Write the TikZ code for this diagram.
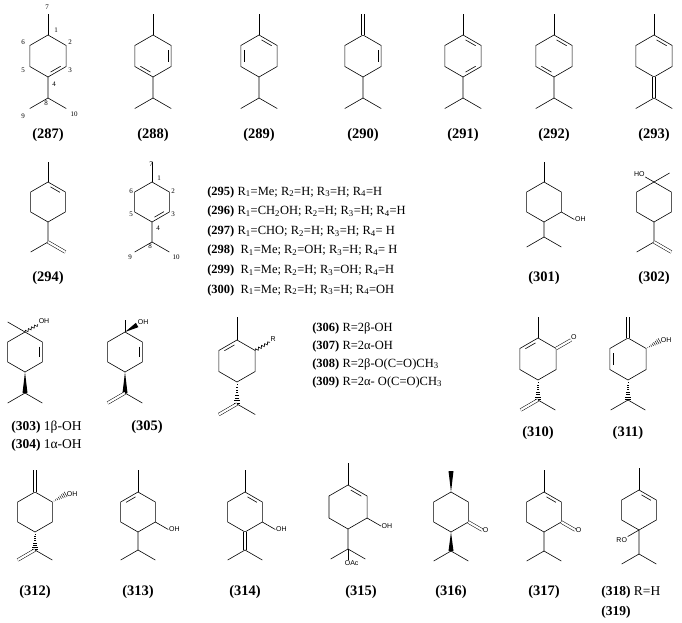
\documentclass[tikz,border=0pt]{standalone}
\usepackage{fontspec}
\setmainfont{Liberation Serif}
\newfontfamily\lsans{Liberation Sans}
\usetikzlibrary{calc,decorations.pathmorphing}
\newcommand\mkring[4]{%
 \coordinate (#1o) at (#2,#3);
 \coordinate (#1a) at ($(#1o)+(-90:#4)$);
 \coordinate (#1b) at ($(#1o)+(-30:#4)$);
 \coordinate (#1c) at ($(#1o)+(30:#4)$);
 \coordinate (#1d) at ($(#1o)+(90:#4)$);
 \coordinate (#1e) at ($(#1o)+(150:#4)$);
 \coordinate (#1f) at ($(#1o)+(210:#4)$);
 \draw (#1a)--(#1b)--(#1c)--(#1d)--(#1e)--(#1f)--cycle;}
\newcommand\din[3]{\draw ($($(#1)!0.17!(#2)$)!3.2pt!(#3)$) -- ($($(#1)!0.83!(#2)$)!3.2pt!(#3)$);}
\newcommand\hw[2]{\foreach \t in {0.12,0.24,...,1.0}{\pgfmathsetmacro\ww{\t*3}\draw[line width=0.45pt] ($($(#1)!\t!(#2)$)!\ww pt!90:(#2)$) -- ($($(#1)!\t!(#2)$)!\ww pt!-90:(#2)$);}}
\newcommand\bw[2]{\fill (#1) -- ($(#2)!2.5pt!90:(#1)$) -- ($(#2)!2.5pt!-90:(#1)$) -- cycle;}
\begin{document}
\begin{tikzpicture}[x=1pt,y=-1pt,line width=0.6pt,
 dbl/.style={double,double distance=2.2pt,line width=0.5pt},
 wavy/.style={decorate,decoration={snake,amplitude=1.3pt,segment length=3.5pt}},
 lab/.style={font=\fontsize{14.5}{16}\selectfont\bfseries},
 txt/.style={font=\fontsize{12.5}{14}\selectfont,anchor=west,inner sep=0pt},
 atl/.style={font=\lsans\fontsize{7}{8}\selectfont,inner sep=0.5pt},
 num/.style={font=\fontsize{7}{8}\selectfont,inner sep=0pt}]
\useasboundingbox (0,0) rectangle (682,623);
% ---------- Row 1 ----------
% 287
\mkring{A}{48}{56}{21}
\din{Ac}{Ad}{Ao}
\draw (Aa) -- ++(0,-21);
\draw (Ad) -- ++(0,21) coordinate (Am) -- ++(150:21); \draw (Am) -- ++(30:21);
\node[num] (n7) at (47,7) {7}; \node[num] (n1) at (56,30) {1};
\node[num] (n2) at (70,42) {2}; \node[num] (n3) at (70,70) {3};
\node[num] (n4) at (54,84) {4}; \node[num] (n5) at (23,70) {5};
\node[num] (n6) at (23,42) {6}; \node[num] (n8) at (46,103) {8};
\node[num] (n9) at (23,116) {9}; \node[num] (n10) at (74,114) {10};
\node[lab] (L287) at (48,135) {(287)};
% 288
\mkring{B}{153}{56}{21}
\din{Bb}{Bc}{Bo} \din{Bd}{Be}{Bo}
\draw (Ba) -- ++(0,-21);
\draw (Bd) -- ++(0,21) coordinate (Bm) -- ++(150:21); \draw (Bm) -- ++(30:21);
\node[lab] (L288) at (153,135) {(288)};
% 289
\mkring{C}{259}{56}{21}
\din{Ca}{Cb}{Co} \din{Ce}{Cf}{Co}
\draw (Ca) -- ++(0,-21);
\draw (Cd) -- ++(0,21) coordinate (Cm) -- ++(150:21); \draw (Cm) -- ++(30:21);
\node[lab] (L289) at (259,135) {(289)};
% 290
\mkring{D}{363}{56}{21}
\din{Db}{Dc}{Do}
\draw[dbl] (Da) -- ++(0,-21);
\draw (Dd) -- ++(0,21) coordinate (Dm) -- ++(150:21); \draw (Dm) -- ++(30:21);
\node[lab] (L290) at (363,135) {(290)};
% 291
\mkring{E}{463}{56}{21}
\din{Ea}{Eb}{Eo} \din{Ec}{Ed}{Eo}
\draw (Ea) -- ++(0,-21);
\draw (Ed) -- ++(0,21) coordinate (Em) -- ++(150:21); \draw (Em) -- ++(30:21);
\node[lab] (L291) at (463,135) {(291)};
% 292
\mkring{F}{554}{56}{21}
\din{Fa}{Fb}{Fo} \din{Fd}{Fe}{Fo}
\draw (Fa) -- ++(0,-21);
\draw (Fd) -- ++(0,21) coordinate (Fm) -- ++(150:21); \draw (Fm) -- ++(30:21);
\node[lab] (L292) at (554,135) {(292)};
% 293
\mkring{G}{654}{56}{21}
\din{Ga}{Gb}{Go}
\draw (Ga) -- ++(0,-21);
\draw[dbl] (Gd) -- ++(0,21) coordinate (Gm); \draw (Gm) -- ++(150:21); \draw (Gm) -- ++(30:21);
\node[lab] (L293) at (654,135) {(293)};
% ---------- Row 2 ----------
% 294
\mkring{H}{48}{202}{20}
\din{Ha}{Hb}{Ho}
\draw (Ha) -- ++(0,-20);
\draw (Hd) -- ++(0,20) coordinate (Hm) -- ++(150:20); \draw[dbl] (Hm) -- ++(30:20);
\node[lab] (L294) at (48,278) {(294)};
% 295 skeleton
\mkring{I}{152}{202}{20}
\din{Ic}{Id}{Io}
\draw (Ia) -- ++(0,-20);
\draw (Id) -- ++(0,20) coordinate (Im) -- ++(150:20); \draw (Im) -- ++(30:20);
\node[num] (m7) at (151,164) {7}; \node[num] (m1) at (159,178) {1};
\node[num] (m2) at (173,191) {2}; \node[num] (m3) at (173,214) {3};
\node[num] (m4) at (158,228) {4}; \node[num] (m5) at (131,214) {5};
\node[num] (m6) at (131,191) {6}; \node[num] (m8) at (150,246) {8};
\node[num] (m9) at (130,257) {9}; \node[num] (m10) at (176,257) {10};
\node[txt] (t295) at (207,192) {\textbf{(295)} R\textsubscript{1}=Me; R\textsubscript{2}=H; R\textsubscript{3}=H; R\textsubscript{4}=H};
\node[txt] (t296) at (207,211.6) {\textbf{(296)} R\textsubscript{1}=CH\textsubscript{2}OH; R\textsubscript{2}=H; R\textsubscript{3}=H; R\textsubscript{4}=H};
\node[txt] (t297) at (207,231.2) {\textbf{(297)} R\textsubscript{1}=CHO; R\textsubscript{2}=H; R\textsubscript{3}=H; R\textsubscript{4}= H};
\node[txt] (t298) at (207,250.8) {\textbf{(298)}\ \ R\textsubscript{1}=Me; R\textsubscript{2}=OH; R\textsubscript{3}=H; R\textsubscript{4}= H};
\node[txt] (t299) at (207,270.4) {\textbf{(299)}\ \ R\textsubscript{1}=Me; R\textsubscript{2}=H; R\textsubscript{3}=OH; R\textsubscript{4}=H};
\node[txt] (t300) at (207,290) {\textbf{(300)}\ \ R\textsubscript{1}=Me; R\textsubscript{2}=H; R\textsubscript{3}=H; R\textsubscript{4}=OH};
% 301
\mkring{J}{544}{202}{20}
\draw (Ja) -- ++(0,-20);
\draw (Jc) -- ++(30:15) node[atl,anchor=west] (J-oh) {OH};
\draw (Jd) -- ++(0,15) coordinate (Jm) -- ++(150:20); \draw (Jm) -- ++(30:20);
\node[lab] (L301) at (544,278) {(301)};
% 302
\mkring{K}{654}{202}{20}
\draw (Ka) -- ++(-30:18);
\draw (Ka) -- ++(210:10) node[atl,anchor=south east] (K-ho) {HO};
\draw (Kd) -- ++(0,20) coordinate (Km) -- ++(150:20); \draw[dbl] (Km) -- ++(30:20);
\node[lab] (L302) at (654,278) {(302)};
% ---------- Row 3 ----------
% 303
\mkring{M}{25}{352}{20}
\din{Mb}{Mc}{Mo}
\draw (Ma) -- ++(210:20);
\draw[wavy] (Ma) -- ++(-30:15) coordinate (Mw);
\node[atl,anchor=south west] (M-oh) at (Mw) {OH};
\coordinate (Mm) at ($(Md)+(0,21)$);
\bw{Md}{Mm}
\draw (Mm) -- ++(150:20); \draw (Mm) -- ++(30:20);
\node[txt,font=\fontsize{13.5}{15}\selectfont] (L303) at (11,427) {\textbf{(303)} 1β-OH};
\node[txt,font=\fontsize{13.5}{15}\selectfont] (L304) at (11,445) {\textbf{(304)} 1α-OH};
% 305
\mkring{N}{125}{352}{20}
\din{Nb}{Nc}{No}
\draw (Na) -- ++(0,-12);
\coordinate (Nw) at ($(Na)+(-30:14)$);
\bw{Na}{Nw}
\node[atl,anchor=south west] (N-oh) at (Nw) {OH};
\coordinate (Nm) at ($(Nd)+(0,21)$);
\bw{Nd}{Nm}
\draw[dbl] (Nm) -- ++(150:20); \draw (Nm) -- ++(30:20);
\node[lab] (L305) at (147,427) {(305)};
% 306-309
\mkring{P}{237}{361}{21}
\din{Pa}{Pf}{Po}
\draw (Pa) -- ++(0,-23);
\draw[wavy] (Pb) -- ++(-30:17) coordinate (Pw);
\node[atl,anchor=south west] (P-r) at (Pw) {R};
\coordinate (Pm) at ($(Pd)+(0,22)$);
\hw{Pd}{Pm}
\draw[dbl] (Pm) -- ++(150:21); \draw (Pm) -- ++(30:21);
\node[txt] (t306) at (312,328) {\textbf{(306)} R=2β-OH};
\node[txt] (t307) at (312,346) {\textbf{(307)} R=2α-OH};
\node[txt] (t308) at (312,364) {\textbf{(308)} R=2β-O(C=O)CH\textsubscript{3}};
\node[txt] (t309) at (312,382) {\textbf{(309)} R=2α- O(C=O)CH\textsubscript{3}};
% 310
\mkring{Q}{538}{359}{21}
\din{Qa}{Qf}{Qo}
\draw (Qa) -- ++(0,-21);
\draw[dbl] (Qb) -- ++(-30:17) coordinate (Qw);
\node[atl,anchor=south west,inner sep=0pt] (Q-o) at (Qw) {O};
\coordinate (Qm) at ($(Qd)+(0,20)$);
\hw{Qd}{Qm}
\draw[dbl] (Qm) -- ++(150:20); \draw (Qm) -- ++(30:20);
\node[lab] (L310) at (538,433) {(310)};
% 311
\mkring{S}{628}{359}{21}
\din{Se}{Sf}{So}
\draw[dbl] (Sa) -- ++(0,-21);
\coordinate (Sw) at ($(Sb)+(-30:16)$);
\hw{Sb}{Sw}
\node[atl,anchor=west] (S-oh) at (Sw) {OH};
\coordinate (Sm) at ($(Sd)+(0,20)$);
\hw{Sd}{Sm}
\draw (Sm) -- ++(150:20); \draw (Sm) -- ++(30:20);
\node[lab] (L311) at (628,433) {(311)};
% ---------- Row 4 ----------
% 312
\mkring{T}{35}{512}{20}
\draw[dbl] (Ta) -- ++(0,-22);
\coordinate (Tw) at ($(Tb)+(-30:16)$);
\hw{Tb}{Tw}
\node[atl,anchor=west] (T-oh) at (Tw) {OH};
\coordinate (Tm) at ($(Td)+(0,18)$);
\hw{Td}{Tm}
\draw[dbl] (Tm) -- ++(150:20); \draw (Tm) -- ++(30:20);
\node[lab] (L312) at (35,592) {(312)};
% 313
\mkring{U}{138}{512}{20}
\din{Ua}{Uf}{Uo}
\draw (Ua) -- ++(0,-22);
\draw (Uc) -- ++(30:15) node[atl,anchor=west] (U-oh) {OH};
\draw (Ud) -- ++(0,18) coordinate (Um) -- ++(150:20); \draw (Um) -- ++(30:20);
\node[lab] (L313) at (138,592) {(313)};
% 314
\mkring{V}{245}{512}{20}
\din{Va}{Vb}{Vo}
\draw (Va) -- ++(0,-22);
\draw (Vc) -- ++(30:15) node[atl,anchor=west] (V-oh) {OH};
\draw[dbl] (Vd) -- ++(0,18) coordinate (Vm); \draw (Vm) -- ++(150:20); \draw (Vm) -- ++(30:20);
\node[lab] (L314) at (245,592) {(314)};
% 315
\mkring{W}{348}{507}{22}
\din{Wa}{Wb}{Wo}
\draw (Wa) -- ++(0,-22);
\draw (Wc) -- ++(30:16) node[atl,anchor=west] (W-oh) {OH};
\draw (Wd) -- ++(0,20) coordinate (Wm) -- ++(150:20); \draw (Wm) -- ++(30:20);
\draw (Wm) -- ++(0,11) node[atl,anchor=north west,xshift=-4pt] (W-oac) {OAc};
\node[lab] (L315) at (361,592) {(315)};
% 316
\mkring{X}{451}{512}{20}
\coordinate (Xt) at ($(Xa)+(0,-21)$);
\bw{Xa}{Xt}
\draw[dbl] (Xc) -- ++(30:16) coordinate (Xw);
\node[atl,anchor=west,inner sep=0.3pt] (X-o) at (Xw) {O};
\coordinate (Xm) at ($(Xd)+(0,19)$);
\bw{Xd}{Xm}
\draw (Xm) -- ++(150:20); \draw (Xm) -- ++(30:20);
\node[lab] (L316) at (451,592) {(316)};
% 317
\mkring{Y}{544}{512}{20}
\din{Ya}{Yb}{Yo}
\draw (Ya) -- ++(0,-22);
\draw[dbl] (Yc) -- ++(30:16) coordinate (Yw);
\node[atl,anchor=west,inner sep=0.3pt] (Y-o) at (Yw) {O};
\draw (Yd) -- ++(0,19) coordinate (Ym) -- ++(150:20); \draw (Ym) -- ++(30:20);
\node[lab] (L317) at (544,592) {(317)};
% 318/319
\mkring{Z}{639}{510}{20}
\din{Za}{Zb}{Zo}
\draw (Za) -- ++(0,-22);
\draw (Zd) -- ++(150:13) node[atl,anchor=north east,inner sep=0.5pt] (Z-ro) {RO};
\draw (Zd) -- ++(0,24) coordinate (Zm) -- ++(150:20); \draw (Zm) -- ++(30:20);
\node[txt,font=\fontsize{13.5}{15}\selectfont] (L318) at (601,592) {\textbf{(318)} R=H};
\node[txt,font=\fontsize{13.5}{15}\selectfont] (L319) at (601,612) {\textbf{(319)}};
\end{tikzpicture}
\end{document}
